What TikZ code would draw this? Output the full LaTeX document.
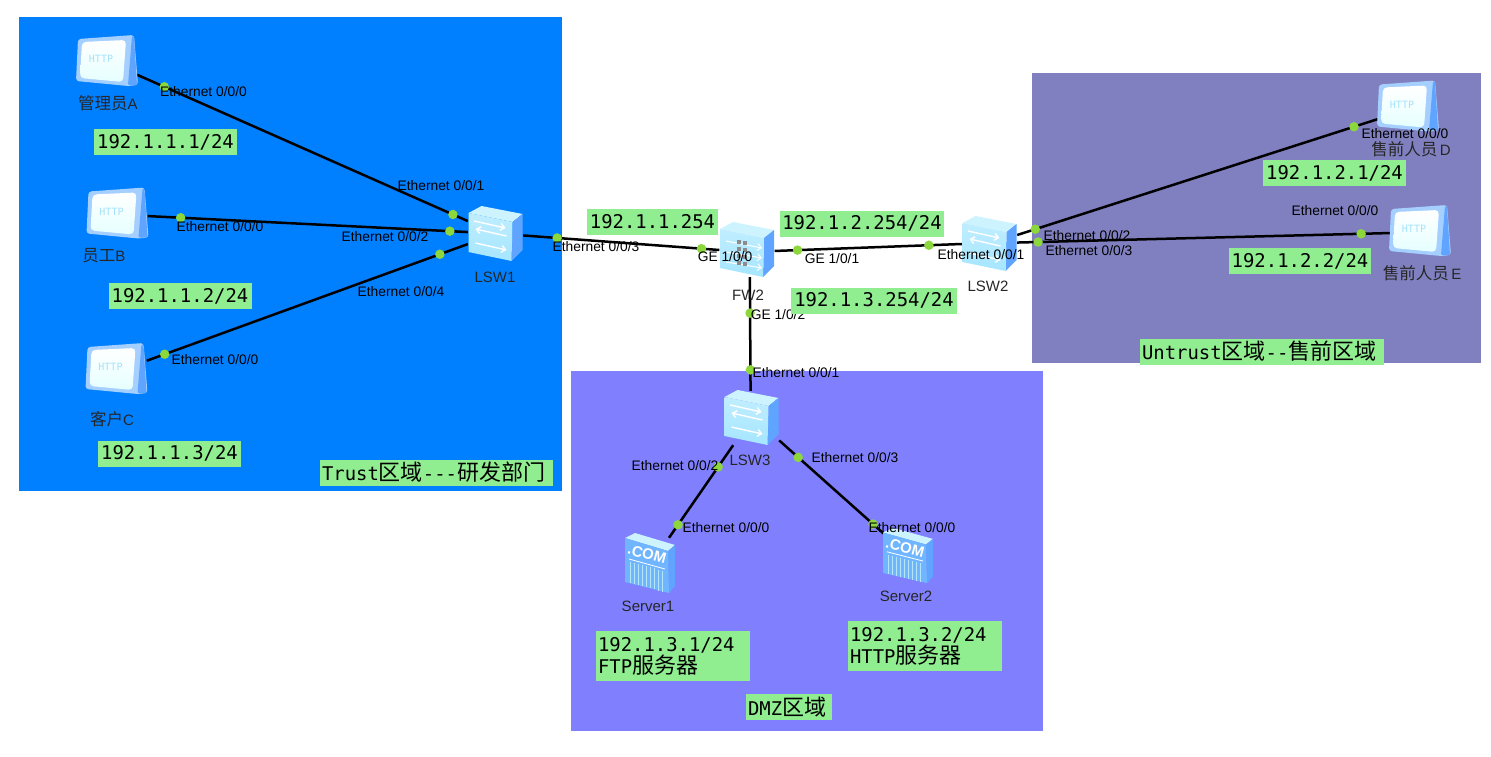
\documentclass[tikz,border=0pt]{standalone}
\usepackage{fontspec}
\setmainfont{Liberation Sans}
\setmonofont{DejaVu Sans Mono}
\newfontfamily\cjk{Noto Sans CJK SC}
\usepackage{xcolor}
\usepackage{tikz}
\usetikzlibrary{arrows.meta}
\definecolor{trustblue}{HTML}{0080FF}
\definecolor{untrustblue}{HTML}{8080C0}
\definecolor{dmzblue}{HTML}{8080FF}
\definecolor{taggreen}{HTML}{90EE90}
\definecolor{portgreen}{HTML}{8CD83C}
\definecolor{iconside}{HTML}{5FA5FF}
\definecolor{icontop}{HTML}{CDF3FF}
\definecolor{iconfront}{HTML}{A5E6FF}
\definecolor{iconedge}{HTML}{A5CFFF}
\newcommand{\bigcjk}[1]{{\cjk\fontsize{22}{24}\selectfont #1}}
\newcommand{\namecjk}[1]{{\cjk\fontsize{16.5}{18}\selectfont #1}}

\begin{document}
\begin{tikzpicture}[
  x=1pt, y=-1pt,
  tag/.style={fill=taggreen, inner sep=0pt, minimum height=26pt, align=left, font=\fontsize{18.9}{23}\ttfamily},
  port/.style={font=\fontsize{13.8}{14}\selectfont, inner sep=0pt, yshift=-1pt},
  devname/.style={font=\fontsize{15}{16}\selectfont, inner sep=0pt, text=black!85},
  portdot/.style={circle, fill=portgreen, inner sep=0pt, minimum size=9.5pt},
  link/.style={line width=2.5pt, black},
  pcbox/.style={minimum width=60pt, minimum height=50pt, inner sep=0pt},
  swbox/.style={minimum width=55pt, minimum height=54pt, inner sep=0pt},
  srvbox/.style={minimum width=44pt, minimum height=50pt, inner sep=0pt},
  flow/.style={white, line width=1.4pt, -{Straight Barb[length=4pt,width=7pt]}},
  pcicon/.pic={
    \fill[iconedge, rounded corners=3pt] (-29,-23) -- (27,-27) -- (31,23) -- (21,24) -- (-31,19) -- cycle;
    \fill[iconside, rounded corners=1pt] (25,-26) -- (27,-25) -- (30,23) -- (21,23) -- cycle;
    \shade[top color=white, bottom color=cyan!10, rounded corners=4pt] (-25,-20) -- (19,-22) -- (16,20) -- (-27,16) -- cycle;
    \node[font=\fontsize{10}{10}\ttfamily, text=cyan!35, inner sep=0pt] at (-6,-3) {HTTP};
  },
  boxbody/.pic={
    \fill[icontop] (-27,-21) -- (-14,-28) -- (27,-20) -- (17,-12) -- cycle;
    \fill[iconside] (17,-12) -- (27,-20) -- (27,16) -- (16,27) -- cycle;
    \shade[top color=iconfront!70, bottom color=iconfront] (-27,-21) -- (17,-12) -- (16,27) -- (-27,18) -- cycle;
  },
  swicon/.pic={
    \pic {boxbody};
    \draw[flow] (-21.5,-13) -- (10,-6);
    \draw[flow] (11,2) -- (-20,-5);
    \draw[flow] (-20,9) -- (11,16);
  },
  fwicon/.pic={
    \pic {boxbody};
    \draw[flow, line width=1pt] (-21,-9) -- (15,-2);
    \draw[flow, line width=1pt] (-21,2) -- (15,8);
    \draw[flow, line width=1pt] (-21,12) -- (15,18);
    \foreach \yy in {-10,-3,4,11}{
      \fill[black!45] (-10,\yy) rectangle +(4,4);
      \fill[black!45] (-4,\yy+1) rectangle +(4,4);
    }
  },
  srvicon/.pic={
    \fill[icontop] (-25,-25) -- (-15,-30) -- (25,-18) -- (18,-12) -- cycle;
    \fill[iconside] (18,-12) -- (25,-18) -- (25,23) -- (19,30) -- cycle;
    \fill[iconfront!75!blue!90!cyan] (-25,-25) -- (18,-12) -- (19,30) -- (-25,19) -- cycle;
    \draw[white, line width=.8pt] (-21,-4) -- (15,6);
    \foreach \xx in {-20,-16,...,12}{
      \draw[white!70!cyan, line width=.7pt] (\xx,{-1+(\xx+20)*.27}) -- (\xx,{20+(\xx+20)*.27});
    }
    \node[font=\fontsize{15}{15}\bfseries, text=white, inner sep=0pt, rotate=-15] at (-3,-9) {.COM};
  }
]
  \useasboundingbox (0,0) rectangle (1491,757);

  \fill[trustblue] (19,17) rectangle (562,491);
  \fill[untrustblue] (1032,73) rectangle (1481,363);
  \fill[dmzblue] (571,371) rectangle (1043,731);

  \node[pcbox] (pca) at (107,62) {};
  \node[pcbox] (pcb) at (117.5,214.5) {};
  \node[pcbox] (pcc) at (116.5,370) {};
  \node[pcbox] (pcd) at (1408,107.5) {};
  \node[pcbox] (pce) at (1420,232) {};
  \node[swbox] (lsw1) at (495.5,234) {};
  \node[swbox] (fw2) at (747,250) {};
  \node[swbox] (lsw2) at (989.5,244) {};
  \node[swbox] (lsw3) at (751.5,418) {};
  \node[srvbox] (srv1) at (650,563) {};
  \node[srvbox] (srv2) at (908,555.5) {};

  \draw[link] (pca.-23) -- node[portdot, pos=.082] (pa) {} node[portdot, pos=.955] (s1a) {} (lsw1.155);
  \draw[link] (pcb.-3) -- node[portdot, pos=.103] (pb) {} node[portdot, pos=.944] (s1b) {} (lsw1.176);
  \draw[link] (pcc.17) -- node[portdot, pos=.056] (pc) {} node[portdot, pos=.913] (s1c) {} (lsw1.200);
  \draw[link] (lsw1.-3) -- node[portdot, pos=.173] (s1f) {} node[portdot, pos=.909] (f0) {} (fw2.180);
  \draw[link] (fw2.-2) -- node[portdot, pos=.122] (f1) {} node[portdot, pos=.824] (s2f) {} (lsw2.180);
  \draw[link] (fw2.-84) -- node[portdot, pos=.316] (f2) {} node[portdot, pos=.816] (s3f) {} (lsw3.92);
  \draw[link] (lsw2.18) -- node[portdot, pos=.05] (s2d) {} node[portdot, pos=.934] (pd) {} (pcd.201);
  \draw[link] (lsw2.3) -- node[portdot, pos=.056] (s2e) {} node[portdot, pos=.923] (pe) {} (pce.182);
  \draw[link] (lsw3.-124) -- node[portdot, pos=.234] (s3a) {} node[portdot, pos=.859] (p1) {} (srv1.53);
  \draw[link] (lsw3.-39) -- node[portdot, pos=.178] (s3b) {} node[portdot, pos=.88] (p2) {} (srv2.138);

  \pic at (pca) {pcicon};
  \pic at (pcb) {pcicon};
  \pic at (pcc) {pcicon};
  \pic at (pcd) {pcicon};
  \pic at (pce) {pcicon};
  \pic at (lsw1) {swicon};
  \pic at (lsw2) {swicon};
  \pic at (lsw3) {swicon};
  \pic at (fw2) {fwicon};
  \pic at (srv1) {srvicon};
  \pic[yscale=.92] at (srv2) {srvicon};

  \node[devname] (na) at (108,103) {\namecjk{管理员}A};
  \node[devname] (nb) at (104,256) {\namecjk{员工}B};
  \node[devname] (nc) at (112,419) {\namecjk{客户}C};
  \node[devname] (nd) at (1411,149) {\namecjk{售前人员}\,D};
  \node[devname] (ne) at (1422,273) {\namecjk{售前人员}\,E};
  \node[devname] (n1) at (495,277) {LSW1};
  \node[devname] (n2) at (988,286) {LSW2};
  \node[devname] (n3) at (750,460) {LSW3};
  \node[devname] (nf) at (748,295) {FW2};
  \node[devname] (ns1) at (648,606) {Server1};
  \node[devname] (ns2) at (906,596) {Server2};

  \node[port] (ta) at (203.5,91) {Ethernet 0/0/0};
  \node[port] (ts1a) at (441,185) {Ethernet 0/0/1};
  \node[port] (ts1b) at (385,236) {Ethernet 0/0/2};
  \node[port] (tb) at (220,226) {Ethernet 0/0/0};
  \node[port] (ts1c) at (401,291) {Ethernet 0/0/4};
  \node[port] (tc) at (215,359) {Ethernet 0/0/0};
  \node[port] (ts1f) at (596,246) {Ethernet 0/0/3};
  \node[port] (tf0) at (725,256) {GE 1/0/0};
  \node[port] (tf1) at (832,258) {GE 1/0/1};
  \node[port] (tf2) at (778,314) {GE 1/0/2};
  \node[port] (ts2f) at (981,254) {Ethernet 0/0/1};
  \node[port] (ts3f) at (796,372) {Ethernet 0/0/1};
  \node[port] (ts2d) at (1087,235) {Ethernet 0/0/2};
  \node[port] (ts2e) at (1089,250) {Ethernet 0/0/3};
  \node[port] (td) at (1405,133) {Ethernet 0/0/0};
  \node[port] (te) at (1335,210) {Ethernet 0/0/0};
  \node[port] (ts3a) at (675,465) {Ethernet 0/0/2};
  \node[port] (ts3b) at (855,457) {Ethernet 0/0/3};
  \node[port] (t1) at (726,527) {Ethernet 0/0/0};
  \node[port] (t2) at (912,527) {Ethernet 0/0/0};

  \node[tag, minimum width=143pt] (ipa) at (165.5,142) {192.1.1.1/24};
  \node[tag, minimum width=143pt] (ipb) at (180,296) {192.1.1.2/24};
  \node[tag, minimum width=143pt] (ipc) at (169.5,453.5) {192.1.1.3/24};
  \node[tag, minimum width=131pt] (ipf0) at (652.5,222) {192.1.1.254};
  \node[tag, minimum width=164pt] (ipf1) at (862,223.5) {192.1.2.254/24};
  \node[tag, minimum width=166pt] (ipf2) at (874,300.5) {192.1.3.254/24};
  \node[tag, minimum width=143pt] (ipd) at (1334.5,173) {192.1.2.1/24};
  \node[tag, minimum width=142pt] (ipe) at (1300,261) {192.1.2.2/24};
  \node[tag, text width=150pt, minimum width=154pt, minimum height=50pt] (ip1) at (673,656) {192.1.3.1/24\\[-1pt]FTP\bigcjk{服务器}};
  \node[tag, text width=150pt, minimum width=154pt, minimum height=50pt] (ip2) at (925,646) {192.1.3.2/24\\[-1pt]HTTP\bigcjk{服务器}};
  \node[tag, text width=229pt, minimum width=233pt] (ztrust) at (436.5,472.5) {Trust\bigcjk{区域}---\bigcjk{研发部门}};
  \node[tag, text width=240pt, minimum width=244pt] (zuntrust) at (1262,351.5) {Untrust\bigcjk{区域}--\bigcjk{售前区域}};
  \node[tag, text width=82pt, minimum width=86pt] (zdmz) at (789,707) {DMZ\bigcjk{区域}};
\end{tikzpicture}
\end{document}
